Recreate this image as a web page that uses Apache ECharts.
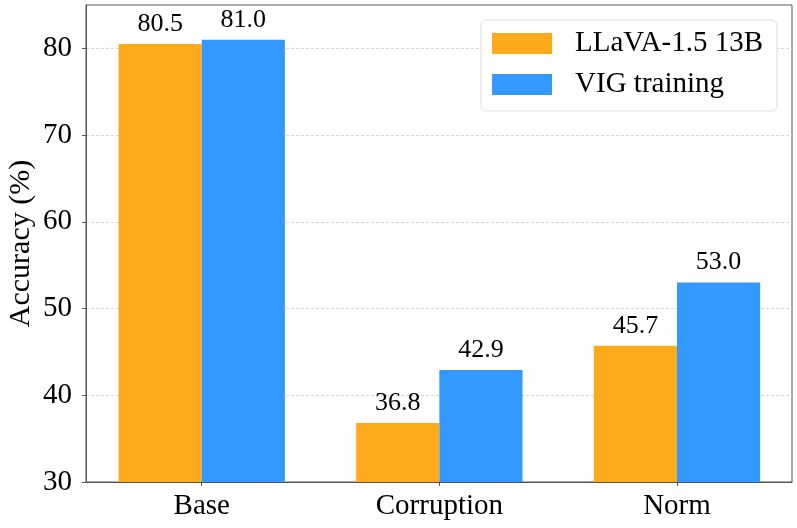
<!DOCTYPE html>
<html>
<head>
<meta charset="utf-8">
<script src="https://cdn.jsdelivr.net/npm/echarts@6/dist/echarts.min.js"></script>
<style>html,body{margin:0;padding:0;background:#fff;}#c{width:797px;height:528px;}</style>
</head>
<body>
<div id="c"></div>
<script>
const categories = ['Base', 'Corruption', 'Norm'];
const seriesNames = ['LLaVA-1.5 13B', 'VIG training'];
const llavaValues = [80.5, 36.8, 45.7];
const vigValues = [81.0, 42.9, 53.0];
const yTicks = [30, 40, 50, 60, 70, 80];
const catPositions = [0, 1, 2];

const FONT = 'Liberation Serif';
const chart = echarts.init(document.getElementById('c'), null, {renderer: 'canvas'});

function toData(vals) { return vals.map((v, i) => [catPositions[i], v]); }
const labelCfg = {
  show: true, position: 'top', distance: 7,
  fontFamily: FONT, fontSize: 26, color: '#000',
  formatter: p => p.value[1].toFixed(1)
};

chart.setOption({
  animation: false,
  textStyle: {fontFamily: FONT},
  grid: {left: 86, right: 5, top: 5, bottom: 46, show: true, borderColor: '#555', borderWidth: 1,
    containLabel: false, outerBoundsMode: 'none'},
  legend: {
    right: 20, top: 20, orient: 'vertical',
    itemWidth: 60, itemHeight: 21, itemGap: 12,
    padding: [9, 14, 12, 11],
    borderColor: '#ddd', borderWidth: 1, borderRadius: 5,
    backgroundColor: '#fff',
    textStyle: {fontFamily: FONT, fontSize: 29, color: '#000', padding: [0, 0, 0, 18]},
    icon: 'rect',
    data: seriesNames
  },
  xAxis: {
    type: 'value', min: -0.487, max: 2.484,
    axisLine: {show: true, onZero: false, lineStyle: {color: '#555'}},
    axisTick: {show: true, length: 4, lineStyle: {color: '#555'}, customValues: catPositions},
    axisLabel: {show: true, customValues: catPositions, formatter: v => categories[Math.round(v)] || '',
      fontFamily: FONT, fontSize: 29, color: '#000', margin: 10},
    splitLine: {show: false}
  },
  yAxis: {
    type: 'value', min: 30, max: 85, interval: 10,
    name: 'Accuracy (%)', nameLocation: 'middle', nameGap: 50, nameMoveOverlap: false,
    nameTextStyle: {fontFamily: FONT, fontSize: 30, color: '#000'},
    axisLine: {show: true, onZero: false, lineStyle: {color: '#555'}},
    axisTick: {show: true, length: 4, lineStyle: {color: '#555'}, customValues: yTicks},
    axisLabel: {customValues: yTicks, fontFamily: FONT, fontSize: 29, color: '#000', margin: 14},
    splitLine: {show: true, lineStyle: {color: '#ccc', type: [3, 2], width: 0.8}}
  },
  series: [
    {name: seriesNames[0], type: 'bar', data: toData(llavaValues), barWidth: '35%', barGap: '0%',
     itemStyle: {color: '#FDAB1C'}, label: labelCfg},
    {name: seriesNames[1], type: 'bar', data: toData(vigValues), barWidth: '35%', barGap: '0%',
     itemStyle: {color: '#3399FF'}, label: labelCfg}
  ]
});
</script>
</body>
</html>
